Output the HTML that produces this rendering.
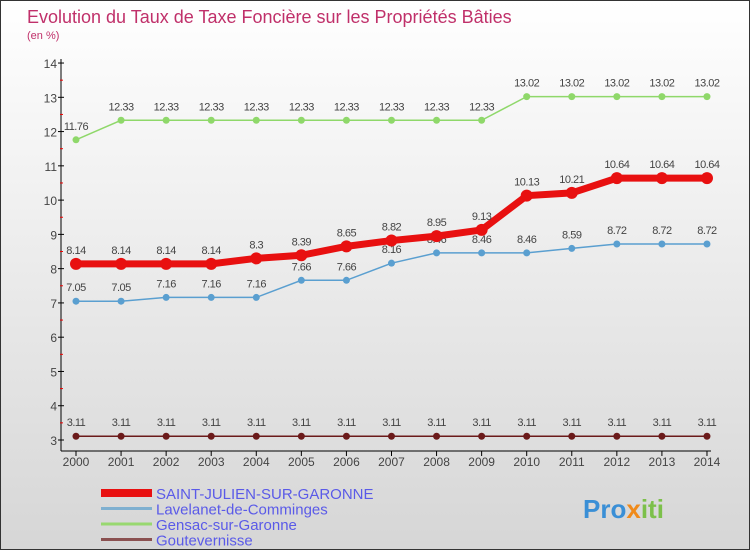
<!DOCTYPE html>
<html><head><meta charset="utf-8"><style>
body{margin:0;}
#wrap{position:relative;width:748px;height:548px;border:1px solid #333;background:linear-gradient(#fff,#d6d6d6);font-family:"Liberation Sans",sans-serif;overflow:hidden}
</style></head><body>
<div id="wrap">
<svg id="chart" width="748" height="548" xmlns="http://www.w3.org/2000/svg">
<text x="26" y="22" font-size="18" fill="#c0306a">Evolution du Taux de Taxe Foncière sur les Propriétés Bâties</text>
<text x="26" y="38" font-size="11" fill="#c0306a">(en %)</text>
<g id="axes"></g><g id="series"></g><g id="legend"></g>
<text x="582" y="517" font-size="26" font-weight="bold" font-family="Liberation Sans, sans-serif"><tspan fill="#3a8fd6">Pro</tspan><tspan fill="#f08a1a">x</tspan><tspan fill="#7cc04a">iti</tspan></text>
</svg></div>
<script>
const years=[2000,2001,2002,2003,2004,2005,2006,2007,2008,2009,2010,2011,2012,2013,2014];
const yTicks=[3,4,5,6,7,8,9,10,11,12,13,14];
const stJulien=[8.14,8.14,8.14,8.14,8.3,8.39,8.65,8.82,8.95,9.13,10.13,10.21,10.64,10.64,10.64];
const lavelanet=[7.05,7.05,7.16,7.16,7.16,7.66,7.66,8.16,8.46,8.46,8.46,8.59,8.72,8.72,8.72];
const gensac=[11.76,12.33,12.33,12.33,12.33,12.33,12.33,12.33,12.33,12.33,13.02,13.02,13.02,13.02,13.02];
const goute=[3.11,3.11,3.11,3.11,3.11,3.11,3.11,3.11,3.11,3.11,3.11,3.11,3.11,3.11,3.11];
const names=["SAINT-JULIEN-SUR-GARONNE","Lavelanet-de-Comminges","Gensac-sur-Garonne","Goutevernisse"];
const NS="http://www.w3.org/2000/svg";
const X=i=>75+i*45.07, Y=v=>439-(v-3)*34.27;
function mk(t,a,p){const e=document.createElementNS(NS,t);for(const k in a)e.setAttribute(k,a[k]);p.appendChild(e);return e;}
const ax=document.getElementById('axes');
let e=mk('line',{x1:60,y1:58,x2:60,y2:450,stroke:'#000'},ax);


e=mk('line',{x1:60,y1:450,x2:710,y2:450,stroke:'#000'},ax);


yTicks.forEach(v=>{mk('line',{x1:57,y1:Y(v),x2:63,y2:Y(v),stroke:'#000'},ax);
 if(v<14)mk('line',{x1:59,y1:Y(v+0.5),x2:62,y2:Y(v+0.5),stroke:'#e00'},ax);
 const t=mk('text',{x:56,y:Y(v)+5,'font-size':12,fill:'#444','text-anchor':'end'},ax);t.textContent=v;
 
 });
years.forEach((yr,i)=>{mk('line',{x1:X(i),y1:450,x2:X(i),y2:455,stroke:'#000'},ax);
 const t=mk('text',{x:X(i),y:465,'font-size':12,fill:'#444','text-anchor':'middle'},ax);t.textContent=yr;
 
 });
const sg=document.getElementById('series');
function draw(arr,col,w,r,name){const g=mk('g',{},sg);
 
 
 mk('polyline',{points:arr.map((v,i)=>X(i)+','+Y(v)).join(' '),fill:'none',stroke:col,'stroke-width':w},g);
 arr.forEach((v,i)=>{const c=mk('circle',{cx:X(i),cy:Y(v),r:r,fill:col},g);
  
  
  const t=mk('text',{x:X(i),y:Y(v)-10,'font-size':11,fill:'#444','text-anchor':'middle','letter-spacing':'-0.5'},g);t.textContent=v;
  
  });}
draw(goute,'#6b1a1a',1.5,3.5,'series-goutevernisse');
draw(gensac,'#8fd86a',1.5,3.5,'series-gensac');
draw(lavelanet,'#5a9fd0',1.5,3.5,'series-lavelanet');
draw(stJulien,'#e81010',7,6,'series-saint-julien');
const lg=document.getElementById('legend');
const cols=['#e81010','#7fb0d0','#98d870','#8a5050'],ws=[8,3,3,3];
names.forEach((n,i)=>{const y=492+i*15.5;
 const g=mk('g',{},lg);
 
 
 mk('line',{x1:100,y1:y,x2:151,y2:y,stroke:cols[i],'stroke-width':ws[i]},g);
 const t=mk('text',{x:155,y:y+6,'font-size':15,fill:'#5a5ae8'},g);t.textContent=n;});
</script></body></html>
